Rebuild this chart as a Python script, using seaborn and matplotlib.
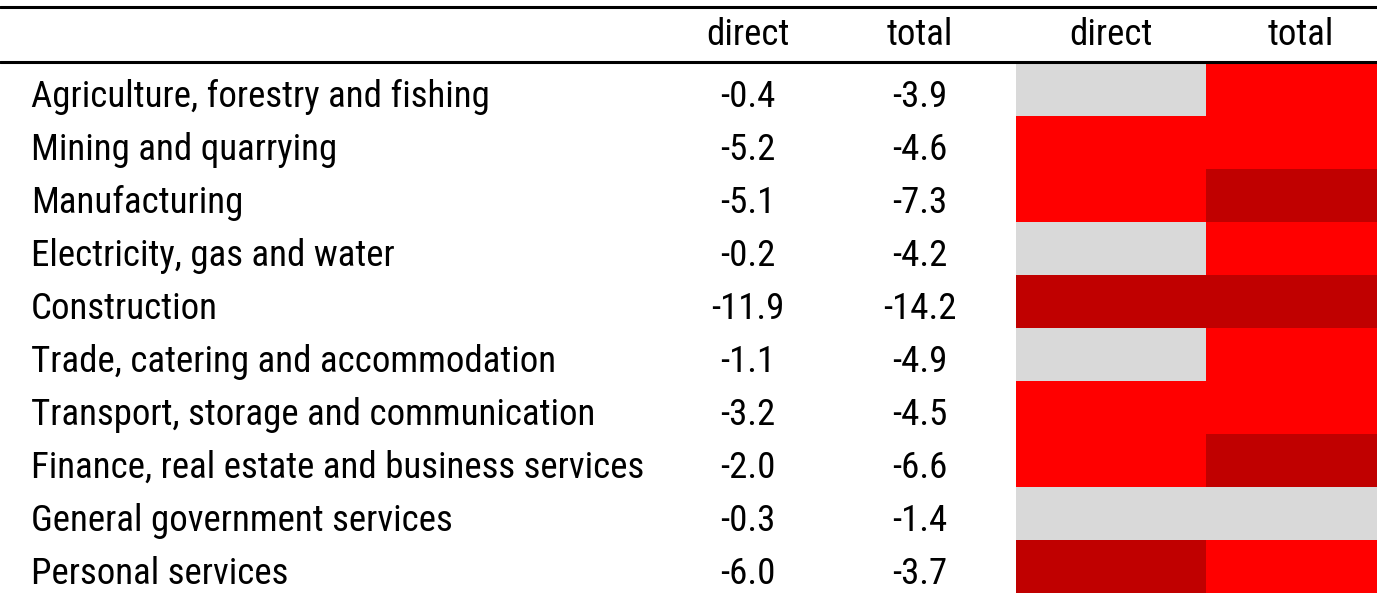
import matplotlib
matplotlib.use("Agg")
import matplotlib.pyplot as plt
import matplotlib.transforms as mtransforms
import pandas as pd
import seaborn as sns
from matplotlib.colors import ListedColormap, BoundaryNorm

# ── Data ──────────────────────────────────────────────────────────────────────
SECTORS = [
    "Agriculture, forestry and fishing",
    "Mining and quarrying",
    "Manufacturing",
    "Electricity, gas and water",
    "Construction",
    "Trade, catering and accommodation",
    "Transport, storage and communication",
    "Finance, real estate and business services",
    "General government services",
    "Personal services",
]
DIRECT = [-0.4, -5.2, -5.1, -0.2, -11.9, -1.1, -3.2, -2.0, -0.3, -6.0]
TOTAL = [-3.9, -4.6, -7.3, -4.2, -14.2, -4.9, -4.5, -6.6, -1.4, -3.7]
COLUMNS = ["direct", "total"]

# colour bands: <= -6 dark red, -6..-2 red, > -2 grey
BAND_EDGES = [-20, -5.95, -1.95, 5]
BAND_COLORS = ["#C00000", "#FF0000", "#D9D9D9"]

sns.set_style("white")
plt.rcParams["font.family"] = ["Roboto Condensed", "Liberation Sans", "DejaVu Sans"]
plt.rcParams["text.color"] = "black"

W, H = 1377, 593
ROW_PX = 53
TOP_PX = 63
FS = 26.6
BASE = 44 / ROW_PX          # baseline offset inside a row

fig = plt.figure(figsize=(W / 100, H / 100), dpi=100)

# ── Table part (labels and numbers) ───────────────────────────────────────────
ax = fig.add_axes([0, 0, 1, 1])
ax.set_xlim(0, W)
ax.set_ylim((H - TOP_PX) / ROW_PX, -TOP_PX / ROW_PX)
ax.axis("off")

num_x = {"direct": 748, "total": 920}
header_y = (45 - TOP_PX) / ROW_PX
for col in COLUMNS:
    ax.text(num_x[col], header_y, col, ha="center", va="baseline", fontsize=FS)

for i, (name, d, t) in enumerate(zip(SECTORS, DIRECT, TOTAL)):
    y = i + BASE
    ax.text(31, y, name, ha="left", va="baseline", fontsize=FS)
    ax.text(num_x["direct"], y, f"{d:.1f}", ha="center", va="baseline", fontsize=FS)
    ax.text(num_x["total"], y, f"{t:.1f}", ha="center", va="baseline", fontsize=FS)

ax.axhline((7 - TOP_PX) / ROW_PX, color="black", linewidth=2.2)
ax.axhline(-1.5 / ROW_PX, color="black", linewidth=2.2)

# ── Heatmap part ──────────────────────────────────────────────────────────────
df = pd.DataFrame({"direct": DIRECT, "total": TOTAL}, index=SECTORS)
hx0 = 1016 / W
hax = fig.add_axes([hx0, 0, 380 / W, (H - TOP_PX) / H])
sns.heatmap(
    df,
    cmap=ListedColormap(BAND_COLORS),
    norm=BoundaryNorm(BAND_EDGES, len(BAND_COLORS)),
    cbar=False,
    linewidths=0,
    xticklabels=False,
    yticklabels=False,
    ax=hax,
)
for s in hax.spines.values():
    s.set_visible(False)

# heatmap column headers, aligned with the heatmap columns
trans = mtransforms.blended_transform_factory(hax.transData, ax.transData)
for j, col in enumerate(COLUMNS):
    ax.text(j + 0.5, header_y, col, ha="center", va="baseline",
            fontsize=FS, transform=trans)

ax.set_zorder(2)
ax.patch.set_visible(False)

fig.savefig("out.png", dpi=100)
